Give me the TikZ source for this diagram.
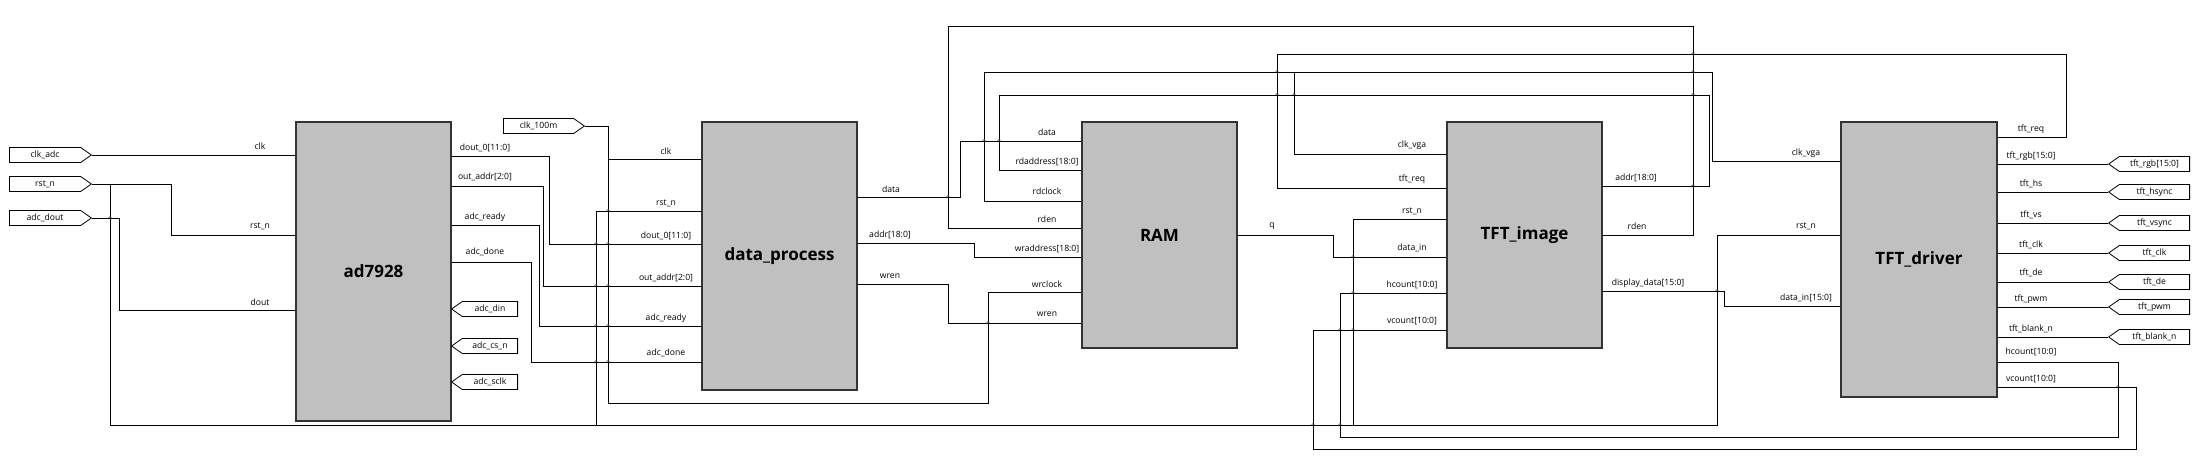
\documentclass[tikz,border=0pt]{standalone}
\usepackage{fontspec}
\setmainfont{Open Sans}
\usetikzlibrary{shapes.symbols}
\definecolor{blockgray}{HTML}{C0C0C0}
\begin{document}
\begin{tikzpicture}[x=1pt,y=-1pt,
  wire/.style={line width=0.9pt},
  block/.style={draw=black!80,line width=1.6pt,fill=blockgray,minimum width=155pt,inner sep=0pt,font=\fontsize{17}{20}\selectfont\bfseries},
  lbl/.style={font=\fontsize{8.6}{10}\selectfont,inner sep=0pt},
  portbase/.style={signal,draw,line width=0.8pt,minimum height=15pt,inner sep=0pt,signal pointer angle=70,font=\fontsize{8.6}{10}\selectfont},
  portin/.style={portbase,signal to=east},
  portout/.style={portbase,signal to=west},
  hopmark/.style={line width=0.6pt,draw=black!70}]
\useasboundingbox (0,0) rectangle (2208,463);

% blocks
\node[block,minimum height=299pt] (ad) at (373.5,271.5) {ad7928};
\node[block,minimum height=268pt] (dp) at (779.5,256) {data\_process};
\node[block,minimum height=226pt] (ram) at (1159.5,235) {RAM};
\node[block,minimum height=226pt] (img) at (1524.5,235) {TFT\_image};
\node[block,minimum height=275pt,minimum width=156pt] (drv) at (1919,259.5) {TFT\_driver};

% ports
\node[portin,anchor=west,minimum width=82pt] (pclkadc) at (9,155) {clk\_adc};
\node[portin,anchor=west,minimum width=82pt] (prst) at (9,184) {rst\_n};
\node[portin,anchor=west,minimum width=82pt] (pdout) at (9,218) {adc\_dout};
\node[portin,anchor=west,minimum width=81pt] (pclk100) at (503,126) {clk\_100m};
\node[portout,anchor=east,minimum width=66pt] (pdin) at (518,309) {adc\_din};
\node[portout,anchor=east,minimum width=66pt] (pcs) at (518,346) {adc\_cs\_n};
\node[portout,anchor=east,minimum width=66pt] (psclk) at (518,382) {adc\_sclk};
\node[portout,anchor=east,minimum width=81pt] (prgb) at (2190,164) {tft\_rgb[15:0]};
\node[portout,anchor=east,minimum width=81pt] (phs) at (2190,192) {tft\_hsync};
\node[portout,anchor=east,minimum width=81pt] (pvs) at (2190,223) {tft\_vsync};
\node[portout,anchor=east,minimum width=81pt] (ptclk) at (2190,253) {tft\_clk};
\node[portout,anchor=east,minimum width=81pt] (pde) at (2190,282) {tft\_de};
\node[portout,anchor=east,minimum width=81pt] (ppwm) at (2190,307) {tft\_pwm};
\node[portout,anchor=east,minimum width=81pt] (pblank) at (2190,337) {tft\_blank\_n};

% ad7928 inputs
\draw[wire] (pclkadc.east) -- (pclkadc.east -| ad.west);
\draw[wire] (prst.east) -- (171,184) -- (171,235) -- (ad.west |- 0,235);
\draw[wire] (pdout.east) -- (119,218) -- (119,310) -- (ad.west |- 0,310);
% rst_n net
\draw[wire] (110,184) -- (110,425) -- (1717,425) -- (1717,235) -- (drv.west |- 0,235);
\draw[wire] (596,425) -- (596,211) -- (dp.west |- 0,211);
\draw[wire] (1353,425) -- (1353,219) -- (img.west |- 0,219);
% ad7928 outputs
\draw[wire] (ad.east |- 0,156) -- (549,156) -- (549,244) -- (dp.west |- 0,244);
\draw[wire] (ad.east |- 0,186) -- (543,186) -- (543,286) -- (dp.west |- 0,286);
\draw[wire] (ad.east |- 0,225) -- (539,225) -- (539,326) -- (dp.west |- 0,326);
\draw[wire] (ad.east |- 0,262) -- (531,262) -- (531,362) -- (dp.west |- 0,362);
% clk_100m
\draw[wire] (pclk100.east) -- (608,126) -- (608,403) -- (988,403) -- (988,292) -- (ram.west |- 0,292);
\draw[wire] (608,159) -- (dp.west |- 0,159);
% data_process outputs
\draw[wire] (dp.east |- 0,197) -- (960,197) -- (960,141) -- (ram.west |- 0,141);
\draw[wire] (dp.east |- 0,243) -- (974,243) -- (974,257) -- (ram.west |- 0,257);
\draw[wire] (dp.east |- 0,284) -- (948,284) -- (948,323) -- (ram.west |- 0,323);
% RAM read side
\draw[wire] (ram.west |- 0,170) -- (999,170) -- (999,95) -- (1709,95) -- (1709,186) -- (img.east |- 0,186);
\draw[wire] (ram.west |- 0,201) -- (984,201) -- (984,72) -- (1712,72) -- (1712,161) -- (drv.west |- 0,161);
\draw[wire] (1294,72) -- (1294,154) -- (img.west |- 0,154);
\draw[wire] (ram.west |- 0,228) -- (948,228) -- (948,26) -- (1693,26) -- (1693,235) -- (img.east |- 0,235);
\draw[wire] (drv.east |- 0,137) -- (2066,137) -- (2066,54) -- (1277,54) -- (1277,188) -- (img.west |- 0,188);
\draw[wire] (ram.east |- 0,235) -- (1333,235) -- (1333,257) -- (img.west |- 0,257);
\draw[wire] (drv.east |- 0,362) -- (2118,362) -- (2118,437) -- (1340,437) -- (1340,293) -- (img.west |- 0,293);
\draw[wire] (drv.east |- 0,387) -- (2136,387) -- (2136,449) -- (1313,449) -- (1313,330) -- (img.west |- 0,330);
\draw[wire] (img.east |- 0,291) -- (1724,291) -- (1724,306) -- (drv.west |- 0,306);
% TFT_driver outputs
\foreach \p in {prgb,phs,pvs,ptclk,pde,ppwm,pblank}
  \draw[wire] (drv.east |- \p.west) -- (\p.west);

% hops
\foreach \hx/\hy in {110/218,596/244,608/244,596/286,608/286,596/326,608/326,596/362,608/362,608/211,
  948/197,984/141,999/141,988/323,1277/95,1294/95,1693/95,1693/186,1277/72,1693/72,1693/54,
  1353/257,1353/293,1340/330,1353/330,1340/425,1313/425,2118/387,1717/291}
  \draw[hopmark] (\hx-1.5,\hy) -- (\hx,\hy-1.5) -- (\hx+1.5,\hy);

% labels ad7928
\node[lbl] at (260,146) {clk};
\node[lbl] at (260,226) {rst\_n};
\node[lbl] at (260,302) {dout};
\node[lbl] at (485,148) {dout\_0[11:0]};
\node[lbl] at (485,177) {out\_addr[2:0]};
\node[lbl] at (485,217) {adc\_ready};
\node[lbl] at (485,252) {adc\_done};
% labels data_process
\node[lbl] at (666,151) {clk};
\node[lbl] at (666,203) {rst\_n};
\node[lbl] at (666,236) {dout\_0[11:0]};
\node[lbl] at (666,278) {out\_addr[2:0]};
\node[lbl] at (666,318) {adc\_ready};
\node[lbl] at (666,353) {adc\_done};
\node[lbl] at (891,189) {data};
\node[lbl] at (890,235) {addr[18:0]};
\node[lbl] at (890,276) {wren};
% labels RAM
\node[lbl] at (1047,132) {data};
\node[lbl] at (1047,162) {rdaddress[18:0]};
\node[lbl] at (1047,191) {rdclock};
\node[lbl] at (1047,219) {rden};
\node[lbl] at (1047,249) {wraddress[18:0]};
\node[lbl] at (1047,284) {wrclock};
\node[lbl] at (1047,314) {wren};
\node[lbl] at (1272,226) {q};
% labels TFT_image
\node[lbl] at (1412,145) {clk\_vga};
\node[lbl] at (1412,179) {tft\_req};
\node[lbl] at (1412,211) {rst\_n};
\node[lbl] at (1412,248) {data\_in};
\node[lbl] at (1412,285) {hcount[10:0]};
\node[lbl] at (1412,321) {vcount[10:0]};
\node[lbl] at (1636,178) {addr[18:0]};
\node[lbl] at (1637,226) {rden};
\node[lbl] at (1648,283) {display\_data[15:0]};
% labels TFT_driver
\node[lbl] at (1806,153) {clk\_vga};
\node[lbl] at (1806,226) {rst\_n};
\node[lbl] at (1806,298) {data\_in[15:0]};
\node[lbl] at (2031,129) {tft\_req};
\node[lbl] at (2031,156) {tft\_rgb[15:0]};
\node[lbl] at (2031,184) {tft\_hs};
\node[lbl] at (2031,215) {tft\_vs};
\node[lbl] at (2031,245) {tft\_clk};
\node[lbl] at (2031,273) {tft\_de};
\node[lbl] at (2031,299) {tft\_pwm};
\node[lbl] at (2031,329) {tft\_blank\_n};
\node[lbl] at (2031,352) {hcount[10:0]};
\node[lbl] at (2031,379) {vcount[10:0]};
\end{tikzpicture}
\end{document}
